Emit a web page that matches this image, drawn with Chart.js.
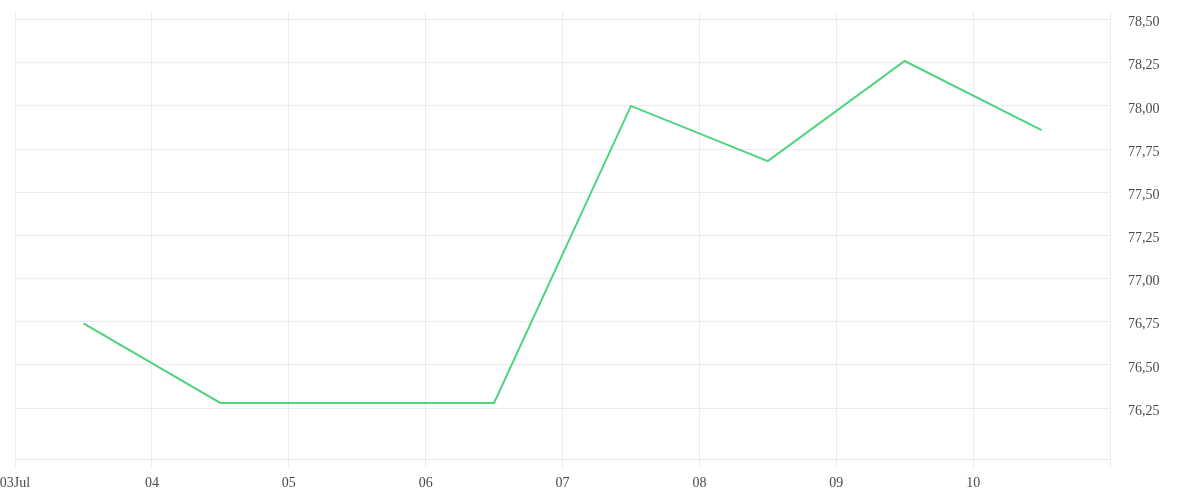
<!DOCTYPE html>
<html>
<head>
<meta charset="utf-8">
<script src="https://cdn.jsdelivr.net/npm/chart.js@4"></script>
<style>
  html, body { margin: 0; padding: 0; background: #fff; }
  #wrap { width: 1200px; height: 500px; }
</style>
</head>
<body>
<div id="wrap"><canvas id="rateChart"></canvas></div>
<script>
// day labels at the gridlines (03 Jul .. 10 Jul)
const dayLabels = ['03Jul', '04', '05', '06', '07', '08', '09', '10'];
// one value per day, placed at midday
const dayPositions = [0.5, 1.5, 2.5, 3.5, 4.5, 5.5, 6.5, 7.5];
const rateValues = [76.74, 76.28, 76.28, 76.28, 78.00, 77.68, 78.26, 77.86];
// y ticks shown on the right
const yTicks = [76.25, 76.50, 76.75, 77.00, 77.25, 77.50, 77.75, 78.00, 78.25, 78.50];

const gridColor = '#ececec';
const textColor = '#4a4a4a';
const fontFamily = '"Liberation Serif", "DejaVu Serif", serif';

function buildPoints() {
    return dayPositions.map(function(x, i) {
        return { x: x, y: rateValues[i] };
    });
}

const ctx = document.getElementById('rateChart').getContext('2d');
new Chart(ctx, {
    type: 'line',
    data: {
        datasets: [{
            data: buildPoints(),
            borderColor: '#4fd47e',
            borderWidth: 2,
            pointRadius: 0,
            tension: 0,
            fill: false
        }]
    },
    options: {
        responsive: true,
        maintainAspectRatio: false,
        animation: false,
        layout: { padding: { top: 12, bottom: 0, left: 0, right: 0 } },
        plugins: {
            legend: { display: false },
            tooltip: { enabled: false }
        },
        scales: {
            x: {
                type: 'linear',
                min: 0,
                max: 8,
                afterFit: function(axis) {
                    axis.paddingLeft = 15;
                    axis.paddingRight = 0;
                },
                grid: { color: gridColor, tickLength: 8, tickColor: gridColor },
                border: { color: gridColor },
                ticks: {
                    stepSize: 1,
                    autoSkip: false,
                    maxRotation: 0,
                    padding: 8,
                    color: textColor,
                    font: { family: fontFamily, size: 14 },
                    callback: function(value) {
                        return dayLabels[value] !== undefined ? dayLabels[value] : '';
                    }
                }
            },
            y: {
                position: 'right',
                min: 75.954,
                max: 78.544,
                afterBuildTicks: function(axis) {
                    axis.ticks = yTicks.map(function(v) { return { value: v }; });
                },
                afterFit: function(axis) {
                    axis.width = 90;
                    axis.paddingTop = 0;
                    axis.paddingBottom = 0;
                },
                grid: { color: gridColor, drawTicks: false },
                border: { color: gridColor },
                ticks: {
                    padding: 18,
                    labelOffset: 3,
                    color: textColor,
                    font: { family: fontFamily, size: 14 },
                    callback: function(value) {
                        return value.toFixed(2).replace('.', ',');
                    }
                }
            }
        }
    }
});
</script>
</body>
</html>
